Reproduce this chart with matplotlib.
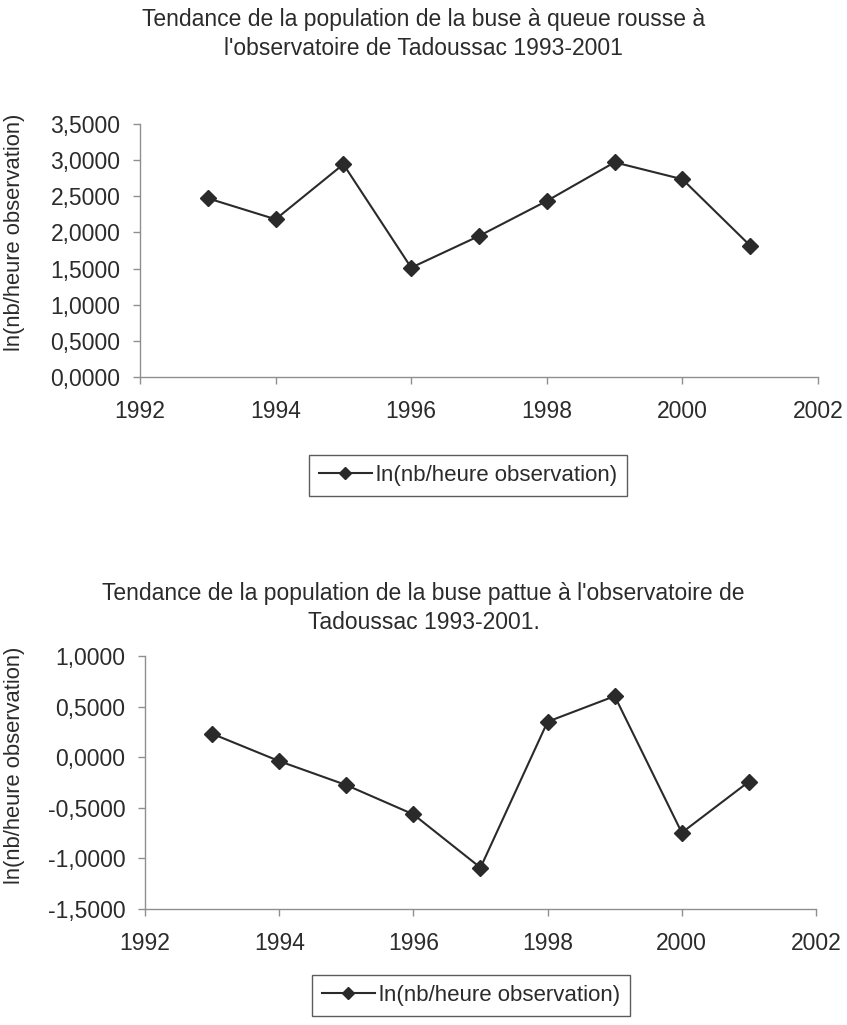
import matplotlib
matplotlib.use("Agg")
import matplotlib.pyplot as plt
from matplotlib.ticker import FuncFormatter, MultipleLocator

plt.rcParams['font.family'] = ['Liberation Sans', 'DejaVu Sans']

years = [1993, 1994, 1995, 1996, 1997, 1998, 1999, 2000, 2001]
buse_queue_rousse = [2.474, 2.183, 2.946, 1.512, 1.951, 2.437, 2.973, 2.738, 1.817]
buse_pattue = [0.231, -0.040, -0.277, -0.567, -1.094, 0.350, 0.603, -0.748, -0.243]

title_top = "Tendance de la population de la buse à queue rousse à\nl'observatoire de Tadoussac 1993-2001"
title_bottom = "Tendance de la population de la buse pattue à l'observatoire de\nTadoussac 1993-2001."
ylabel = "ln(nb/heure observation)"
series_label = "ln(nb/heure observation)"

W, H = 847, 1025
fig = plt.figure(figsize=(W / 100, H / 100), dpi=100)
fig.patch.set_facecolor('white')

fmt = FuncFormatter(lambda v, p: f"{v:.4f}".replace('.', ',').replace('-0,0000', '0,0000'))
axis_col = '#8f8f8f'
line_col = '#2a2a2a'
text_col = '#2b2b2b'
FS = 16.5


def make_panel(rect, values, ylim, title, title_y, legend_box, ylab_xy):
    ax = fig.add_axes(rect)
    ln, = ax.plot(years, values, color=line_col, lw=1.5, marker='D', ms=8.5,
                  mfc=line_col, mec=line_col, label=series_label)
    ax.set_xlim(1992, 2002)
    ax.set_ylim(*ylim)
    ax.xaxis.set_major_locator(MultipleLocator(2))
    ax.yaxis.set_major_locator(MultipleLocator(0.5))
    ax.yaxis.set_major_formatter(fmt)
    ax.xaxis.set_major_formatter(FuncFormatter(lambda v, p: f"{int(round(v))}"))
    for s in ('top', 'right'):
        ax.spines[s].set_visible(False)
    for s in ('left', 'bottom'):
        ax.spines[s].set_color(axis_col)
        ax.spines[s].set_linewidth(1.0)
    ax.tick_params(axis='both', direction='out', length=5, width=1.0,
                   color=axis_col, labelsize=FS, labelcolor=text_col)
    ax.tick_params(axis='x', pad=12)
    ax.tick_params(axis='y', pad=9)
    ax.set_ylabel(ylabel, fontsize=15.8, color=text_col)
    ax.yaxis.set_label_coords(*ylab_xy)
    fig.text(0.5, title_y, title, ha='center', va='center', fontsize=FS,
             color=text_col, linespacing=1.3)
    leg = fig.legend(handles=[ln], loc='center', bbox_to_anchor=legend_box,
                     bbox_transform=fig.transFigure, fontsize=16, frameon=True,
                     fancybox=False, edgecolor='#333333', handlelength=2.4,
                     handletextpad=0.2, borderpad=0.45, borderaxespad=0,
                     labelcolor=text_col, markerscale=0.75)
    leg.get_frame().set_linewidth(1.0)
    return ax


make_panel([140 / W, 1 - 376.7 / H, (818 - 140) / W, (376.7 - 124.3) / H],
           buse_queue_rousse, (0, 3.5), title_top, 1 - 34 / H,
           (468 / W, 1 - 475.5 / H), (-0.1696, 0.571))
make_panel([145 / W, 1 - 908.7 / H, (816 - 145) / W, (908.7 - 656) / H],
           buse_pattue, (-1.5, 1.0), title_bottom, 1 - 608 / H,
           (471 / W, 1 - 995 / H), (-0.179, 0.569))

fig.savefig('out.png', dpi=100, facecolor='white')
